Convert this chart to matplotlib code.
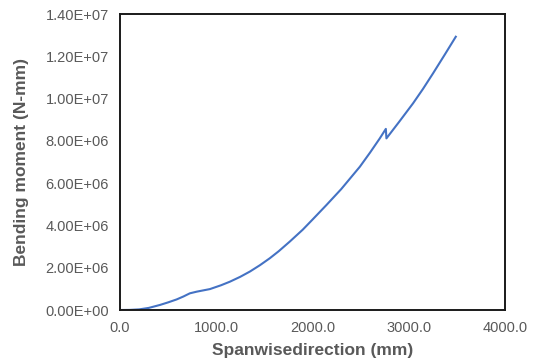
import matplotlib
matplotlib.use('Agg')
import matplotlib.pyplot as plt
from matplotlib.ticker import FuncFormatter

# spanwise stations (mm) and bending moment (N-mm)
span = [0, 100, 200, 300, 416, 500, 589, 660, 727, 800, 935, 1050, 1143,
        1250, 1351, 1455, 1558, 1650, 1766, 1900, 2000, 2147, 2300, 2494,
        2600, 2701, 2764, 2770, 2900, 3047, 3150, 3255, 3380, 3491]
moment_e6 = [0.0, 0.005, 0.03, 0.10, 0.24, 0.36, 0.50, 0.64, 0.79, 0.87,
             0.99, 1.17, 1.34, 1.57, 1.82, 2.12, 2.45, 2.78, 3.24, 3.80,
             4.27, 4.97, 5.72, 6.78, 7.45, 8.12, 8.57, 8.12, 8.89, 9.78,
             10.46, 11.20, 12.11, 12.93]
moment = [m * 1e6 for m in moment_e6]

plt.rcParams['font.family'] = ['Liberation Sans', 'DejaVu Sans']
gray = '#595959'

fig = plt.figure(figsize=(5.33, 3.62), dpi=100)
ax = fig.add_axes([0.225, 0.1436, 0.722, 0.8174])
ax.plot(span, moment, color='#4472C4', lw=1.5)

ax.set_xlim(0, 4000)
ax.set_ylim(0, 1.4e7)
ax.set_xticks([0, 1000, 2000, 3000, 4000])
ax.set_yticks([i * 2e6 for i in range(8)])
ax.xaxis.set_major_formatter(FuncFormatter(lambda v, p: '%.1f' % v))
ax.yaxis.set_major_formatter(FuncFormatter(lambda v, p: ('%.2E' % v)))
ax.tick_params(length=0, labelsize=10.5, labelcolor=gray, pad=8)
for s in ax.spines.values():
    s.set_color('#1a1a1a')
    s.set_linewidth(1.4)

ax.set_xlabel('Spanwisedirection (mm)', fontsize=12.5, fontweight='bold', color=gray, labelpad=6)
ax.set_ylabel('Bending moment (N-mm)', fontsize=12.5, fontweight='bold', color=gray, labelpad=12)

fig.savefig('out.png', dpi=100)
